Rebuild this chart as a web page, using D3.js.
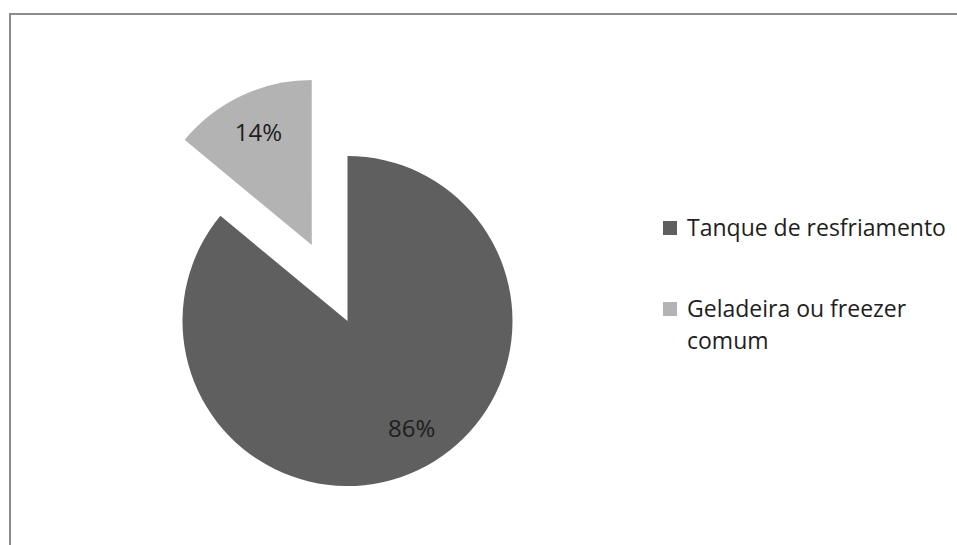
<!DOCTYPE html>
<html>
<head>
<meta charset="utf-8">
<script src="https://cdn.jsdelivr.net/npm/d3@7"></script>
<style>
  html, body { margin: 0; padding: 0; background: #fff; }
  svg { display: block; }
</style>
</head>
<body>
<svg id="chart" width="957" height="545"></svg>
<script>
// Storage type shares (percent)
const categories = ["Tanque de resfriamento", "Geladeira ou freezer comum"];
const values = [86, 14];
const legendLines = [["Tanque de resfriamento"], ["Geladeira ou freezer", "comum"]];
const colors = ["#5f5f5f", "#b3b3b3"];
const explode = [0, 84];

const svg = d3.select("#chart");
const W = 957, H = 545;
const font = "'Open Sans', 'DejaVu Sans', sans-serif";

// chart frame (extends past the right and bottom edges)
svg.append("rect")
  .attr("x", 10).attr("y", 14)
  .attr("width", W + 20).attr("height", H + 20)
  .attr("fill", "#fff")
  .attr("stroke", "#8c8c8c").attr("stroke-width", 2);

const cx = 347.5, cy = 321, r = 165;
const pie = d3.pie().sort(null).value(d => d.value);
const data = categories.map((c, i) => ({ name: c, value: values[i], color: colors[i], explode: explode[i] }));
const arcs = pie(data);
const arc = d3.arc().innerRadius(0).outerRadius(r);
const labelArc = d3.arc().innerRadius(125).outerRadius(125);
// small nudges for the value labels
const labelNudge = [[11, -6], [0, 0]];

const g = svg.append("g").attr("transform", `translate(${cx},${cy})`);

const slice = g.selectAll("g.slice").data(arcs).enter().append("g")
  .attr("class", "slice")
  .attr("transform", d => {
    const mid = (d.startAngle + d.endAngle) / 2;
    const off = d.data.explode;
    return `translate(${Math.sin(mid) * off},${-Math.cos(mid) * off})`;
  });

slice.append("path")
  .attr("d", arc)
  .attr("fill", d => d.data.color);

slice.append("text")
  .attr("transform", (d, i) => {
    const [x, y] = labelArc.centroid(d);
    return `translate(${x + labelNudge[i][0]},${y + labelNudge[i][1]})`;
  })
  .attr("text-anchor", "middle")
  .attr("dy", "0.36em")
  .attr("font-family", font)
  .attr("font-size", 24)
  .attr("fill", "#1e1e1e")
  .text(d => d.data.value + "%");

// legend
const legend = svg.append("g").attr("transform", "translate(663,221)");
const itemY = [0, 81];
legendLines.forEach((lines, i) => {
  const it = legend.append("g").attr("transform", `translate(0,${itemY[i]})`);
  it.append("rect").attr("x", 0).attr("y", 0).attr("width", 14).attr("height", 14)
    .attr("fill", colors[i]);
  lines.forEach((t, j) => {
    it.append("text")
      .attr("x", 24).attr("y", 15 + j * 32)
      .attr("font-family", font)
      .attr("font-size", 23)
      .attr("fill", "#1e1e1e")
      .text(t);
  });
});
</script>
</body>
</html>
